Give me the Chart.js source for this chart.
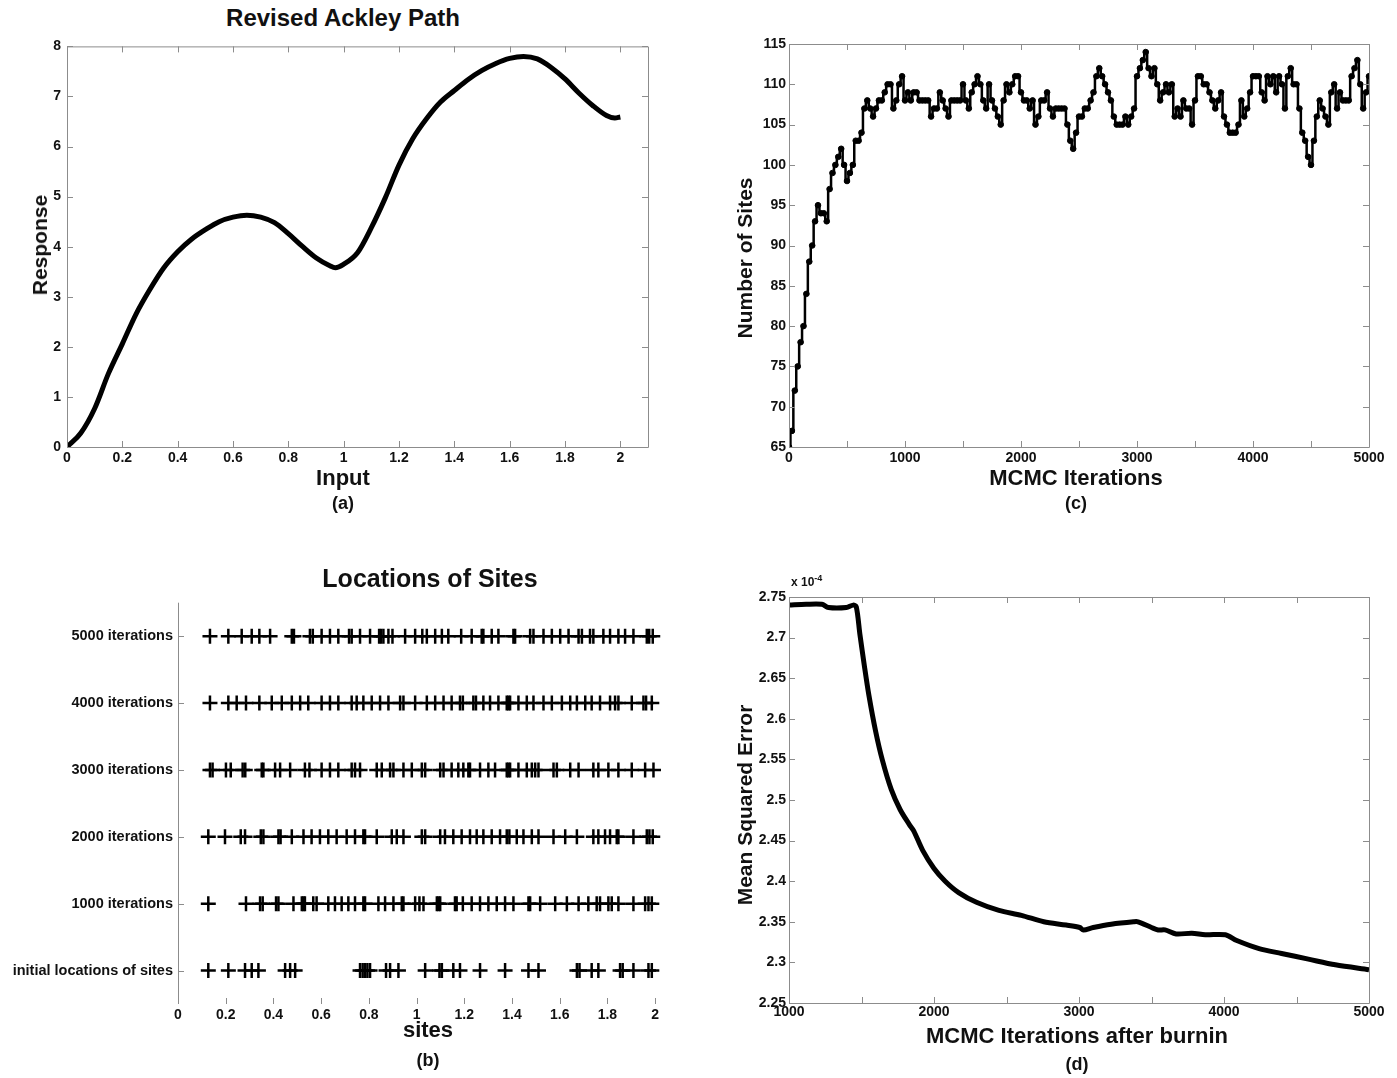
<!DOCTYPE html>
<html>
<head>
<meta charset="utf-8">
<title>Revised Ackley Path - RJMCMC sites</title>
<script src="https://cdn.jsdelivr.net/npm/chart.js@4.4.0/dist/chart.umd.min.js"></script>
<style>
  body { margin: 0; background: #fff; width: 1397px; height: 1078px; position: relative; overflow: hidden;
         font-family: 'Liberation Sans', Arial, sans-serif; font-weight: bold; color: #111; }
  canvas { position: absolute; }
  .t { position: absolute; transform: translate(-50%, -50%); white-space: nowrap; }
  .v { position: absolute; transform: translate(-50%, -50%) rotate(-90deg); white-space: nowrap; }
</style>
</head>
<body>
<canvas id="ackley" width="668" height="437" style="left:0px;top:32px"></canvas>
<canvas id="nsites" width="660" height="437" style="left:729px;top:32px"></canvas>
<canvas id="locations" width="699" height="437" style="left:0px;top:589px"></canvas>
<canvas id="mse" width="660" height="440" style="left:729px;top:585px"></canvas>

<div class="t" style="left:343px;top:18px;font-size:24px">Revised Ackley Path</div>
<div class="v" style="left:40px;top:245px;font-size:21px">Response</div>
<div class="t" style="left:343px;top:478px;font-size:22px">Input</div>
<div class="t" style="left:343px;top:503px;font-size:18px">(a)</div>

<div class="v" style="left:745px;top:258px;font-size:21px">Number of Sites</div>
<div class="t" style="left:1076px;top:478px;font-size:22px">MCMC Iterations</div>
<div class="t" style="left:1076px;top:503px;font-size:18px">(c)</div>

<div class="t" style="left:430px;top:578px;font-size:25px">Locations of Sites</div>
<div class="t" style="left:428px;top:1030px;font-size:22px">sites</div>
<div class="t" style="left:428px;top:1060px;font-size:18px">(b)</div>

<div style="position:absolute;left:791px;top:573px;font-size:12px">x 10<sup style="font-size:9px">-4</sup></div>
<div class="v" style="left:745px;top:805px;font-size:21px">Mean Squared Error</div>
<div class="t" style="left:1077px;top:1036px;font-size:22px">MCMC Iterations after burnin</div>
<div class="t" style="left:1077px;top:1064px;font-size:18px">(d)</div>

<script>
// (a) revised Ackley path
const ackleyInput = [0, 0.05, 0.1, 0.15, 0.2, 0.25, 0.3, 0.35, 0.4, 0.45, 0.5, 0.55, 0.6, 0.65, 0.7,
    0.75, 0.8, 0.85, 0.9, 0.95, 0.97, 1.0, 1.05, 1.1, 1.15, 1.2, 1.25, 1.3, 1.35, 1.4, 1.45, 1.5,
    1.55, 1.6, 1.65, 1.7, 1.75, 1.8, 1.85, 1.9, 1.95, 1.98, 2.0];
const ackleyResponse = [0, 0.28, 0.77, 1.47, 2.06, 2.66, 3.15, 3.58, 3.90, 4.15, 4.34, 4.50, 4.59, 4.63, 4.59,
    4.48, 4.26, 4.01, 3.78, 3.62, 3.58, 3.65, 3.88, 4.38, 4.97, 5.63, 6.16, 6.56, 6.89, 7.12, 7.34, 7.52,
    7.66, 7.76, 7.80, 7.75, 7.58, 7.35, 7.07, 6.82, 6.62, 6.57, 6.59];
const inputTicks = [0, 0.2, 0.4, 0.6, 0.8, 1, 1.2, 1.4, 1.6, 1.8, 2];

// (b) site locations, one row per snapshot
const rowLabels = ['initial locations of sites', '1000 iterations', '2000 iterations',
    '3000 iterations', '4000 iterations', '5000 iterations'];
const sitesInitial = [0.127, 0.211, 0.281, 0.309, 0.337, 0.449, 0.470, 0.491, 0.763, 0.774, 0.784, 0.794,
    0.805, 0.872, 0.889, 0.924, 1.036, 1.096, 1.106, 1.154, 1.182, 1.266, 1.371, 1.469, 1.511, 1.672,
    1.683, 1.734, 1.762, 1.853, 1.864, 1.909, 1.972, 1.986];
const sites1000 = [0.127, 0.285, 0.344, 0.355, 0.411, 0.421, 0.484, 0.519, 0.526, 0.532, 0.567, 0.581,
    0.630, 0.658, 0.686, 0.714, 0.742, 0.777, 0.784, 0.840, 0.868, 0.903, 0.938, 0.945, 0.994, 1.012,
    1.029, 1.085, 1.092, 1.099, 1.161, 1.168, 1.194, 1.231, 1.266, 1.301, 1.336, 1.371, 1.406, 1.469,
    1.476, 1.518, 1.581, 1.630, 1.679, 1.720, 1.755, 1.769, 1.804, 1.818, 1.846, 1.909, 1.958, 1.972, 1.986];
const sites2000 = [0.127, 0.197, 0.263, 0.281, 0.347, 0.358, 0.421, 0.430, 0.477, 0.526, 0.560, 0.595,
    0.630, 0.665, 0.707, 0.742, 0.777, 0.784, 0.833, 0.896, 0.917, 0.945, 1.022, 1.036, 1.099, 1.119,
    1.154, 1.189, 1.224, 1.252, 1.280, 1.315, 1.350, 1.378, 1.389, 1.420, 1.448, 1.483, 1.511, 1.574,
    1.623, 1.672, 1.741, 1.762, 1.790, 1.811, 1.839, 1.846, 1.909, 1.965, 1.976, 1.990];
const sites3000 = [0.134, 0.145, 0.201, 0.221, 0.271, 0.282, 0.351, 0.358, 0.407, 0.428, 0.470, 0.532,
    0.551, 0.602, 0.637, 0.672, 0.728, 0.742, 0.763, 0.833, 0.854, 0.889, 0.903, 0.945, 0.980, 1.022,
    1.036, 1.099, 1.113, 1.147, 1.175, 1.196, 1.217, 1.224, 1.266, 1.301, 1.329, 1.378, 1.385, 1.392,
    1.427, 1.462, 1.483, 1.497, 1.511, 1.574, 1.588, 1.644, 1.679, 1.741, 1.762, 1.804, 1.846, 1.902,
    1.958, 1.993];
const sites4000 = [0.134, 0.211, 0.246, 0.285, 0.341, 0.393, 0.435, 0.477, 0.512, 0.546, 0.602, 0.637,
    0.672, 0.728, 0.749, 0.777, 0.812, 0.847, 0.882, 0.931, 0.945, 0.994, 1.043, 1.078, 1.113, 1.147,
    1.182, 1.194, 1.238, 1.249, 1.280, 1.308, 1.343, 1.378, 1.385, 1.392, 1.427, 1.462, 1.490, 1.532,
    1.567, 1.609, 1.644, 1.672, 1.707, 1.734, 1.769, 1.811, 1.832, 1.846, 1.902, 1.951, 1.962, 1.986];
const sites5000 = [0.134, 0.211, 0.267, 0.309, 0.341, 0.386, 0.477, 0.486, 0.553, 0.565, 0.602, 0.637,
    0.672, 0.717, 0.728, 0.763, 0.805, 0.843, 0.851, 0.861, 0.882, 0.899, 0.952, 0.994, 1.024, 1.043,
    1.078, 1.106, 1.133, 1.187, 1.231, 1.273, 1.280, 1.315, 1.343, 1.406, 1.413, 1.476, 1.490, 1.532,
    1.567, 1.602, 1.637, 1.679, 1.693, 1.727, 1.741, 1.783, 1.811, 1.846, 1.874, 1.909, 1.965, 1.975, 1.99];

// (c) number of sites, sampled every 25 iterations from 0 to 5000
const iterStep = 25;
const numSites = [
    65, 67, 72, 75, 78, 80, 84, 88, 90, 93, 95, 94, 94, 93, 97, 99, 100, 101, 102, 100,
    98, 99, 100, 103, 103, 104, 107, 108, 107, 106, 107, 108, 108, 109, 110, 110, 107, 108, 110, 111,
    108, 109, 108, 109, 109, 108, 108, 108, 108, 106, 107, 107, 109, 108, 107, 106, 108, 108, 108, 108,
    110, 108, 107, 109, 110, 111, 110, 108, 107, 110, 108, 107, 106, 105, 108, 110, 109, 110, 111, 111,
    109, 108, 108, 107, 108, 105, 106, 108, 108, 109, 107, 106, 107, 107, 107, 107, 105, 103, 102, 104,
    106, 106, 107, 107, 108, 109, 111, 112, 111, 110, 109, 108, 106, 105, 105, 105, 106, 105, 106, 107,
    111, 112, 113, 114, 112, 111, 112, 110, 108, 109, 110, 109, 110, 106, 107, 106, 108, 107, 107, 105,
    108, 111, 111, 110, 110, 109, 108, 107, 108, 109, 106, 105, 104, 104, 104, 105, 108, 106, 107, 109,
    111, 111, 111, 109, 108, 111, 110, 111, 109, 111, 110, 107, 111, 112, 110, 110, 107, 104, 103, 101,
    100, 103, 106, 108, 107, 106, 105, 109, 110, 107, 109, 108, 108, 108, 111, 112, 113, 110, 107, 109,
    111];

// (d) mean squared error (x 10^-4) after burn-in
const mseIter = [1000, 1118, 1226, 1272, 1396, 1442, 1464, 1489, 1520, 1551, 1597, 1644, 1705, 1767,
    1829, 1860, 1922, 1999, 2077, 2170, 2293, 2448, 2603, 2757, 2912, 3005, 3030, 3098, 3222, 3376,
    3407, 3500, 3546, 3593, 3670, 3778, 3871, 4010, 4088, 4242, 4397, 4582, 4768, 5000];
const mseValue = [2.740, 2.741, 2.741, 2.737, 2.737, 2.740, 2.738, 2.704, 2.665, 2.629, 2.585, 2.549,
    2.513, 2.488, 2.470, 2.462, 2.438, 2.416, 2.400, 2.386, 2.374, 2.364, 2.358, 2.350, 2.346, 2.343,
    2.340, 2.343, 2.347, 2.350, 2.350, 2.343, 2.340, 2.340, 2.335, 2.336, 2.334, 2.334, 2.327, 2.317,
    2.311, 2.304, 2.297, 2.291];

Chart.defaults.font.family = "'Liberation Sans', Arial, sans-serif";
Chart.defaults.font.weight = 'bold';
Chart.defaults.color = '#111';

// matlab style frame: grey box with inward ticks
const matlabAxes = {
    id: 'matlabAxes',
    afterDraw(chart, args, opts) {
        const { ctx, chartArea: a, scales } = chart;
        const len = 6;
        ctx.save();
        ctx.strokeStyle = '#8c8c8c';
        ctx.lineWidth = 1;
        ctx.beginPath();
        if (opts.box) {
            ctx.rect(a.left + 0.5, a.top + 0.5, a.width, a.height);
        } else {
            ctx.moveTo(a.left + 0.5, a.top);
            ctx.lineTo(a.left + 0.5, a.bottom);
        }
        scales.x.ticks.forEach(t => {
            const px = Math.round(scales.x.getPixelForValue(t.value)) + 0.5;
            ctx.moveTo(px, a.bottom);
            ctx.lineTo(px, a.bottom - len);
            if (opts.box) {
                ctx.moveTo(px, a.top);
                ctx.lineTo(px, a.top + len);
            }
        });
        scales.y.ticks.forEach(t => {
            const py = Math.round(scales.y.getPixelForValue(t.value)) + 0.5;
            ctx.moveTo(a.left, py);
            ctx.lineTo(a.left + len, py);
            if (opts.box) {
                ctx.moveTo(a.right, py);
                ctx.lineTo(a.right - len, py);
            }
        });
        ctx.stroke();
        ctx.restore();
    }
};

const trim = (v, d) => String(parseFloat(Number(v).toFixed(d)));
const tickFont = { size: 14 };

function baseScale(extra) {
    return Object.assign({
        type: 'linear',
        grid: { display: false, drawTicks: false },
        border: { display: false }
    }, extra);
}

function baseOptions(box, scales) {
    return {
        responsive: false,
        animation: false,
        layout: { padding: { top: 12, right: 20, left: 0, bottom: 0 } },
        plugins: { legend: { display: false }, tooltip: { enabled: false }, matlabAxes: { box: box } },
        scales: scales
    };
}

function inputAxis() {
    return baseScale({
        min: 0, max: 2.1,
        ticks: { padding: 3, font: tickFont, maxRotation: 0, autoSkip: false, callback: v => trim(v, 1) },
        afterBuildTicks: s => { s.ticks = inputTicks.map(v => ({ value: v })); },
        afterFit: s => { s.height = 22; }
    });
}

// (a)
new Chart(document.getElementById('ackley').getContext('2d'), {
    type: 'line',
    data: {
        datasets: [{
            data: ackleyInput.map((x, i) => ({ x: x, y: ackleyResponse[i] })),
            borderColor: '#000',
            borderWidth: 5,
            pointRadius: 0,
            cubicInterpolationMode: 'monotone',
            fill: false
        }]
    },
    options: baseOptions(true, {
        x: inputAxis(),
        y: baseScale({
            min: 0, max: 8,
            ticks: { stepSize: 1, padding: 6, font: tickFont },
            afterFit: s => { s.width = 67; }
        })
    }),
    plugins: [matlabAxes]
});

// (c)
new Chart(document.getElementById('nsites').getContext('2d'), {
    type: 'line',
    data: {
        datasets: [{
            data: numSites.map((n, i) => ({ x: i * iterStep, y: n })),
            borderColor: '#000',
            backgroundColor: '#000',
            borderWidth: 2.5,
            pointRadius: 2.8,
            pointBorderWidth: 1,
            stepped: 'middle',
            fill: false
        }]
    },
    options: baseOptions(true, {
        x: baseScale({
            min: 0, max: 5000,
            ticks: { stepSize: 500, padding: 3, font: tickFont, maxRotation: 0, autoSkip: false,
                     callback: v => (v % 1000 === 0 ? v : '') },
            afterFit: s => { s.height = 22; }
        }),
        y: baseScale({
            min: 65, max: 115,
            ticks: { stepSize: 5, padding: 3, font: tickFont },
            afterFit: s => { s.width = 60; }
        })
    }),
    plugins: [matlabAxes]
});

// (b)
const rows = [sitesInitial, sites1000, sites2000, sites3000, sites4000, sites5000];
new Chart(document.getElementById('locations').getContext('2d'), {
    type: 'scatter',
    data: {
        datasets: rows.map((sites, r) => ({
            data: sites.map(s => ({ x: s, y: r + 1 })),
            showLine: false,
            pointStyle: 'cross',
            pointRadius: 7.5,
            pointBorderWidth: 2.5,
            borderColor: '#000',
            backgroundColor: '#000'
        }))
    },
    options: baseOptions(false, {
        x: inputAxis(),
        y: baseScale({
            min: 0.5, max: 6.5,
            ticks: { padding: 5, font: { size: 14.5 }, autoSkip: false,
                     callback: v => rowLabels[Math.round(v) - 1] },
            afterBuildTicks: s => { s.ticks = rowLabels.map((l, i) => ({ value: i + 1 })); },
            afterFit: s => { s.width = 178; }
        })
    }),
    plugins: [matlabAxes]
});

// (d)
new Chart(document.getElementById('mse').getContext('2d'), {
    type: 'line',
    data: {
        datasets: [{
            data: mseIter.map((x, i) => ({ x: x, y: mseValue[i] })),
            borderColor: '#000',
            borderWidth: 5,
            pointRadius: 0,
            tension: 0.3,
            fill: false
        }]
    },
    options: baseOptions(true, {
        x: baseScale({
            min: 1000, max: 5000,
            ticks: { stepSize: 500, padding: 1, font: tickFont, maxRotation: 0, autoSkip: false,
                     callback: v => (v % 1000 === 0 ? v : '') },
            afterFit: s => { s.height = 22; }
        }),
        y: baseScale({
            min: 2.25, max: 2.75,
            ticks: { stepSize: 0.05, padding: 3, font: tickFont, callback: v => trim(v, 2) },
            afterFit: s => { s.width = 60; }
        })
    }),
    plugins: [matlabAxes]
});
</script>
</body>
</html>
